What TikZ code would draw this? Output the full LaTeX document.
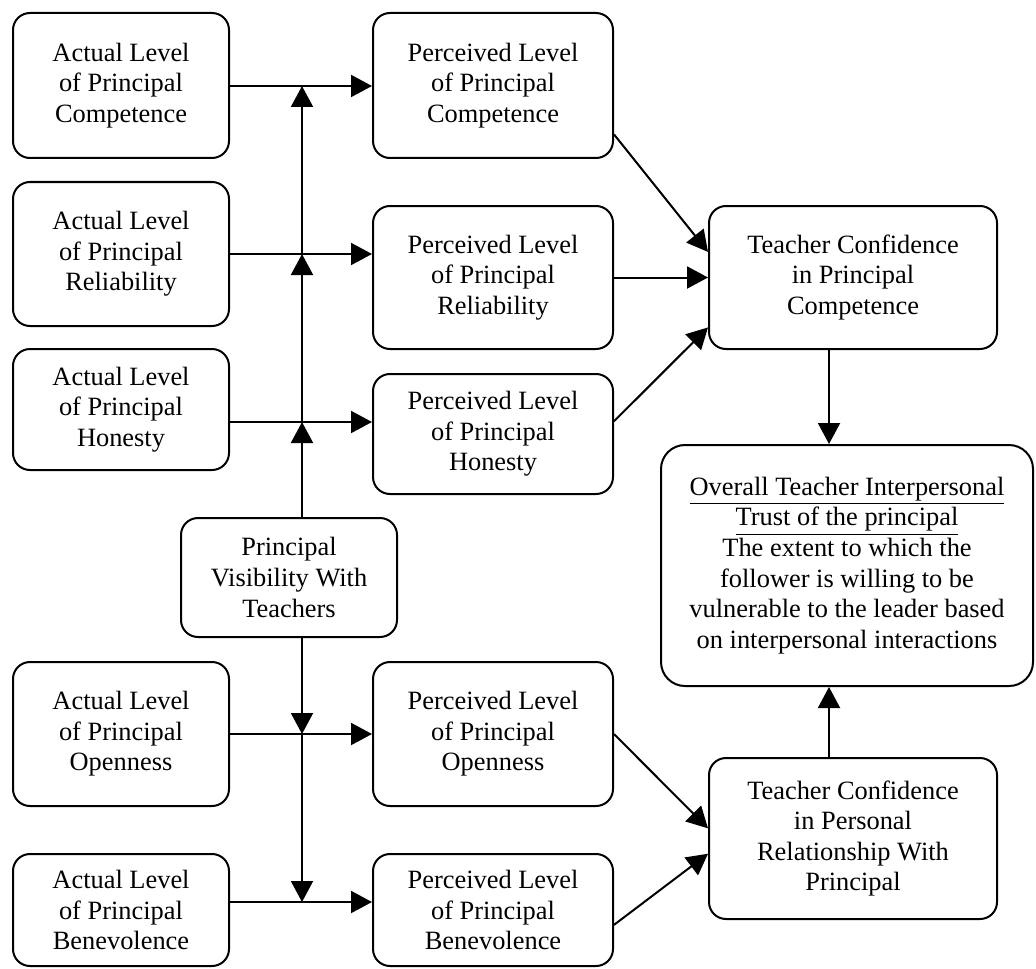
\documentclass[tikz,border=0pt]{standalone}
\usepackage{fontspec}
\setmainfont{Liberation Serif}
\usetikzlibrary{arrows.meta}
\tikzset{
  box/.style={draw, line width=1pt, rounded corners=8.5pt, align=center,
    inner sep=0pt, font=\fontsize{13.2}{15.3}\selectfont},
  wire/.style={line width=1pt},
  link/.style={line width=1pt, -{Triangle[length=10.5pt,width=11pt]}},
}

\begin{document}
\begin{tikzpicture}[x=0.5pt,y=-0.5pt]
\useasboundingbox (0,0) rectangle (1036,968);

% actual levels
\node[box, minimum width=108pt, minimum height=72.5pt] (aComp) at (121,85.5) {Actual Level\\of Principal\\Competence};
\node[box, minimum width=108pt, minimum height=72pt] (aRel) at (121,254) {Actual Level\\of Principal\\Reliability};
\node[box, minimum width=108pt, minimum height=60.5pt] (aHon) at (121,409.5) {Actual Level\\of Principal\\Honesty};
\node[box, minimum width=108pt, minimum height=72pt] (aOpen) at (121,734) {Actual Level\\of Principal\\Openness};
\node[box, minimum width=108pt, minimum height=56pt] (aBen) at (121,910) {Actual Level\\of Principal\\Benevolence};

% perceived levels
\node[box, minimum width=120pt, minimum height=72.5pt] (pComp) at (493,85.5) {Perceived Level\\of Principal\\Competence};
\node[box, minimum width=120pt, minimum height=71.5pt] (pRel) at (493,277.5) {Perceived Level\\of Principal\\Reliability};
\node[box, minimum width=120pt, minimum height=60pt] (pHon) at (493,434) {Perceived Level\\of Principal\\Honesty};
\node[box, minimum width=120pt, minimum height=72pt] (pOpen) at (493,734) {Perceived Level\\of Principal\\Openness};
\node[box, minimum width=120pt, minimum height=56pt] (pBen) at (493,910) {Perceived Level\\of Principal\\Benevolence};

\node[box, minimum width=108pt, minimum height=59.5pt] (vis) at (289,577.5) {Principal\\Visibility With\\Teachers};

% confidence and trust
\node[box, minimum width=144pt, minimum height=71.5pt] (tcComp) at (853,277.5) {Teacher Confidence\\in Principal\\Competence};
\node[box, rounded corners=12pt, minimum width=186pt, minimum height=120.5pt] (trust) at (847,565.5) {\underline{Overall Teacher Interpersonal}\\\underline{Trust of the principal}\\The extent to which the\\follower is willing to be\\vulnerable to the leader based\\on interpersonal interactions};
\node[box, minimum width=144pt, minimum height=80.5pt] (tcPers) at (853,838.5) {Teacher Confidence\\in Personal\\Relationship With\\Principal};

\coordinate (jComp) at (302,86);
\coordinate (jRel) at (302,254);
\coordinate (jHon) at (302,422);
\coordinate (jOpen) at (302,734);
\coordinate (jBen) at (302,902);

\foreach \n in {Comp,Rel,Hon,Open,Ben} {
  \draw[wire] (a\n.east |- j\n) -- (j\n);
  \draw[link] (j\n) -- (p\n.west |- j\n);
}

% visibility line
\draw[link] (vis.north -| jHon) -- (jHon);
\draw[link] (jHon) -- (jRel);
\draw[link] (jRel) -- (jComp);
\draw[link] (vis.south -| jOpen) -- (jOpen);
\draw[link] (jOpen) -- (jBen);

\draw[link] (pComp.-22) -- (tcComp.170);
\draw[link] (pRel.east) -- (tcComp.west);
\draw[link] (pHon.6) -- (tcComp.199);
\draw[link] (pOpen.east) -- (tcPers.176);
\draw[link] (pBen.-7) -- (tcPers.186);

\draw[link] ([xshift=-12pt]tcComp.south) -- ([xshift=-12pt]tcComp.south |- trust.north);
\draw[link] ([xshift=-12pt]tcPers.north) -- ([xshift=-12pt]tcPers.north |- trust.south);
\end{tikzpicture}
\end{document}
